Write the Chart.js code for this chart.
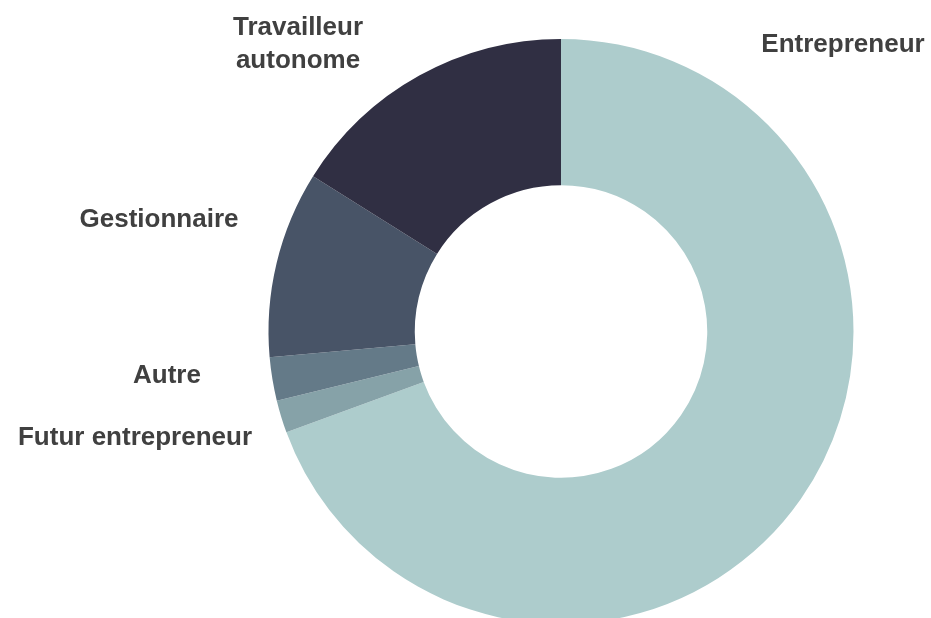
<!DOCTYPE html>
<html>
<head>
<meta charset="utf-8">
<script src="https://cdn.jsdelivr.net/npm/chart.js@4/dist/chart.umd.min.js"></script>
<style>
  html, body { margin: 0; padding: 0; background: #fff; overflow: hidden; }
  #wrap { position: absolute; left: 0; top: 0; width: 931px; height: 660px; }
</style>
</head>
<body>
<div id="wrap"><canvas id="donut"></canvas></div>
<script>
const labels = ["Entrepreneur", "Futur entrepreneur", "Autre", "Gestionnaire", ["Travailleur", "autonome"]];
const values = [69.4, 1.8, 2.4, 10.3, 16.1];
const colors = ["#adcccc", "#86a2a8", "#647a88", "#485467", "#302f43"];

// label anchors, offset from the donut centre (x centre, first baseline)
const labelOffsets = [[282, -280], [-426, 113], [-394, 51], [-402, -105], [-263, -297]];

const outsideLabels = {
    id: "outsideLabels",
    afterDraw(chart) {
        const ctx = chart.ctx;
        const arc = chart.getDatasetMeta(0).data[0];
        ctx.save();
        ctx.font = "bold 26px 'Liberation Sans', Arial, sans-serif";
        ctx.fillStyle = "#404040";
        ctx.textAlign = "center";
        ctx.textBaseline = "alphabetic";
        labels.forEach(function (lbl, i) {
            const lines = Array.isArray(lbl) ? lbl : [lbl];
            lines.forEach(function (line, j) {
                ctx.fillText(line, arc.x + labelOffsets[i][0], arc.y + labelOffsets[i][1] + j * 33);
            });
        });
        ctx.restore();
    },
};

const data = {
    labels: labels,
    datasets: [
        {
            data: values,
            backgroundColor: colors,
            borderWidth: 0,
            hoverOffset: 0,
        },
    ],
};

const config = {
    type: "doughnut",
    data: data,
    options: {
        responsive: true,
        maintainAspectRatio: false,
        animation: false,
        cutout: "50%",
        layout: {
            padding: { left: 268, right: 77, top: 39, bottom: 36 },
        },
        plugins: {
            legend: { display: false },
            tooltip: { enabled: false },
        },
    },
    plugins: [outsideLabels],
};

new Chart(document.getElementById("donut"), config);
</script>
</body>
</html>
